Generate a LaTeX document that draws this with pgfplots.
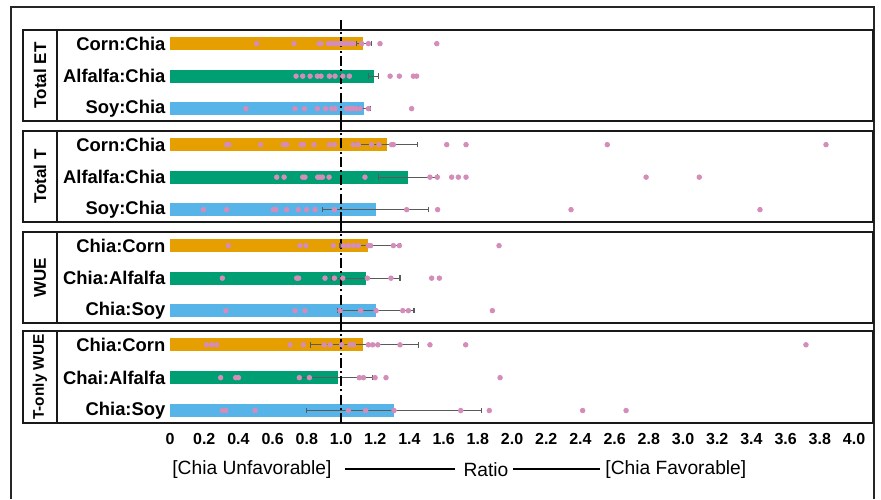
\documentclass[border=0pt]{standalone}
\usepackage{pgfplots}
\pgfplotsset{compat=1.18}
\usepackage{fontspec}
\setmainfont{Liberation Sans}
\definecolor{cOr}{HTML}{E69F00}
\definecolor{cGr}{HTML}{009E73}
\definecolor{cBl}{HTML}{56B4E9}
\definecolor{cPk}{HTML}{D48CB9}
\definecolor{cEr}{HTML}{5A5A5A}
\pgfplotsset{
  panel/.style={
    scale only axis, width=408pt, height=45.5pt,
    anchor=north west,
    xmin=-0.661, xmax=4.111, ymin=-0.38, ymax=2.42,
    ytick=\empty, xtick=\empty,
    axis line style={line width=0.9pt, draw=black!90},
    clip=false,
  },
  barp/.style={xbar, bar width=6.4pt, draw=none, fill=#1, forget plot},
  errp/.style={cEr, line width=0.55pt, mark=|, mark size=1.4pt, mark options={cEr, line width=0.55pt}, forget plot},
  dotp/.style={only marks, color=cPk, mark=*, mark size=1.15pt, mark options={draw=cPk, fill=cPk}, forget plot},
}
\newcommand{\catlab}[2]{\node[anchor=east, inner sep=0pt, font=\fontsize{9.2}{10}\selectfont\bfseries] at (axis cs:-0.025,#1) {#2};}
\newcommand{\refline}{\draw[black, line width=1pt, dash pattern=on 5pt off 1.6pt on 1pt off 1.6pt] (axis cs:1,-0.38) -- (axis cs:1,2.72);}
\begin{document}
\begin{tikzpicture}
\useasboundingbox (0,0) rectangle (440.5pt,-249.5pt);
% outer frame
\draw[line width=1pt, black!85] (5.5pt,-249.5pt) -- (5.5pt,-3.5pt) -- (437pt,-3.5pt) -- (437pt,-249.5pt);
% panel label boxes
\foreach \t/\h/\fs/\lab in {-15/45.5/8.5/Total ET, -65.5/45.5/8.5/Total T, -116/45.5/8.5/WUE, -165.5/46/7.7/T-only WUE}{
  \draw[line width=0.9pt, black!90] (11.5pt,\t pt) rectangle (28.5pt,\t pt-\h pt);
  \node[rotate=90, font=\fontsize{\fs}{10}\selectfont\bfseries, inner sep=0pt] at (20pt,\t pt-0.5*\h pt) {\lab};
}

% ---------------- Panel 1: Total ET
\begin{axis}[panel, at={(28.5pt,-15pt)}]
\addplot[barp=cOr] coordinates {(1.13,2)};
\addplot[barp=cGr] coordinates {(1.193,1)};
\addplot[barp=cBl] coordinates {(1.137,0)};
\addplot[errp] coordinates {(1.09,2) (1.18,2)};
\addplot[errp] coordinates {(1.16,1) (1.22,1)};
\addplot[errp] coordinates {(1.10,0) (1.17,0)};
\addplot[dotp] coordinates {(0.507,2)(0.725,2)(0.871,2)(0.883,2)(0.926,2)(0.94,2)(0.955,2)(0.97,2)(0.984,2)(1.0,2)(1.014,2)(1.03,2)(1.043,2)(1.06,2)(1.072,2)(1.121,2)(1.16,2)(1.228,2)(1.56,2)};
\addplot[dotp] coordinates {(0.737,1)(0.776,1)(0.819,1)(0.862,1)(0.883,1)(0.932,1)(0.965,1)(1.01,1)(1.049,1)(1.287,1)(1.341,1)(1.423,1)(1.442,1)};
\addplot[dotp] coordinates {(0.444,0)(0.731,0)(0.786,0)(0.862,0)(0.909,0)(0.945,0)(0.965,0)(1.033,0)(1.05,0)(1.062,0)(1.077,0)(1.092,0)(1.111,0)(1.16,0)(1.413,0)};
\refline
\catlab{2}{Corn:Chia}
\catlab{1}{Alfalfa:Chia}
\catlab{0}{Soy:Chia}
\end{axis}

% ---------------- Panel 2: Total T
\begin{axis}[panel, at={(28.5pt,-65.5pt)}]
\addplot[barp=cOr] coordinates {(1.267,2)};
\addplot[barp=cGr] coordinates {(1.39,1)};
\addplot[barp=cBl] coordinates {(1.205,0)};
\addplot[errp] coordinates {(1.08,2) (1.446,2)};
\addplot[errp] coordinates {(1.218,1) (1.565,1)};
\addplot[errp] coordinates {(0.893,0) (1.51,0)};
\addplot[dotp] coordinates {(0.331,2)(0.345,2)(0.53,2)(0.663,2)(0.682,2)(0.766,2)(0.78,2)(0.842,2)(0.932,2)(0.961,2)(1.072,2)(1.101,2)(1.179,2)(1.222,2)(1.296,2)(1.306,2)(1.618,2)(1.731,2)(2.557,2)(3.836,2)};
\addplot[dotp] coordinates {(0.624,1)(0.667,1)(0.776,1)(0.789,1)(0.864,1)(0.877,1)(0.891,1)(0.93,1)(1.14,1)(1.52,1)(1.563,1)(1.647,1)(1.686,1)(1.731,1)(2.784,1)(3.095,1)};
\addplot[dotp] coordinates {(0.195,0)(0.331,0)(0.604,0)(0.62,0)(0.682,0)(0.75,0)(0.799,0)(0.848,0)(0.961,0)(1.384,0)(1.565,0)(2.345,0)(3.45,0)};
\refline
\catlab{2}{Corn:Chia}
\catlab{1}{Alfalfa:Chia}
\catlab{0}{Soy:Chia}
\end{axis}

% ---------------- Panel 3: WUE
\begin{axis}[panel, at={(28.5pt,-116pt)}]
\addplot[barp=cOr] coordinates {(1.156,2)};
\addplot[barp=cGr] coordinates {(1.146,1)};
\addplot[barp=cBl] coordinates {(1.205,0)};
\addplot[errp] coordinates {(0.994,2) (1.345,2)};
\addplot[errp] coordinates {(0.945,1) (1.345,1)};
\addplot[errp] coordinates {(0.978,0) (1.427,0)};
\addplot[dotp] coordinates {(0.341,2)(0.76,2)(0.795,2)(0.955,2)(1.014,2)(1.043,2)(1.072,2)(1.101,2)(1.16,2)(1.173,2)(1.306,2)(1.341,2)(1.924,2)};
\addplot[dotp] coordinates {(0.306,1)(0.741,1)(0.752,1)(0.906,1)(0.961,1)(1.01,1)(1.154,1)(1.292,1)(1.53,1)(1.575,1)};
\addplot[dotp] coordinates {(0.327,0)(0.731,0)(0.789,0)(0.994,0)(1.115,0)(1.205,0)(1.361,0)(1.394,0)(1.885,0)};
\refline
\catlab{2}{Chia:Corn}
\catlab{1}{Chia:Alfalfa}
\catlab{0}{Chia:Soy}
\end{axis}

% ---------------- Panel 4: T-only WUE
\begin{axis}[panel, at={(28.5pt,-165.5pt)}, height=46pt,
  xtick={0,0.2,0.4,0.6,0.8,1.0,1.2,1.4,1.6,1.8,2.0,2.2,2.4,2.6,2.8,3.0,3.2,3.4,3.6,3.8,4.0},
  xticklabels={0,0.2,0.4,0.6,0.8,1.0,1.2,1.4,1.6,1.8,2.0,2.2,2.4,2.6,2.8,3.0,3.2,3.4,3.6,3.8,4.0},
  major tick length=0pt,
  xticklabel style={font=\fontsize{8}{9}\selectfont\bfseries, text height=5.8pt, text depth=0pt, yshift=-1.4pt},
]
\addplot[barp=cOr] coordinates {(1.131,2)};
\addplot[barp=cGr] coordinates {(0.98,1)};
\addplot[barp=cBl] coordinates {(1.31,0)};
\addplot[errp] coordinates {(0.819,2) (1.452,2)};
\addplot[errp] coordinates {(0.756,1) (1.185,1)};
\addplot[errp] coordinates {(0.799,0) (1.823,0)};
\addplot[dotp] coordinates {(0.214,2)(0.244,2)(0.273,2)(0.702,2)(0.78,2)(0.901,2)(0.936,2)(1.004,2)(1.053,2)(1.072,2)(1.16,2)(1.185,2)(1.215,2)(1.345,2)(1.52,2)(1.729,2)(3.719,2)};
\addplot[dotp] coordinates {(0.296,1)(0.384,1)(0.4,1)(0.756,1)(0.815,1)(1.107,1)(1.131,1)(1.199,1)(1.263,1)(1.93,1)};
\addplot[dotp] coordinates {(0.306,0)(0.326,0)(0.497,0)(1.043,0)(1.144,0)(1.31,0)(1.7,0)(1.867,0)(2.413,0)(2.667,0)};
\refline
\catlab{2}{Chia:Corn}
\catlab{1}{Chai:Alfalfa}
\catlab{0}{Chia:Soy}
\end{axis}

% bottom caption
\node[anchor=west, inner sep=0pt, font=\fontsize{9.6}{10}\selectfont] at (86pt,-235pt) {[Chia Unfavorable]};
\draw[line width=1pt] (172.5pt,-234.5pt) -- (227.5pt,-234.5pt);
\node[inner sep=0pt, font=\fontsize{9.6}{10}\selectfont] at (243pt,-235pt) {Ratio};
\draw[line width=1pt] (256.5pt,-234.5pt) -- (300pt,-234.5pt);
\node[anchor=west, inner sep=0pt, font=\fontsize{9.6}{10}\selectfont] at (302.5pt,-235pt) {[Chia Favorable]};
\end{tikzpicture}
\end{document}
